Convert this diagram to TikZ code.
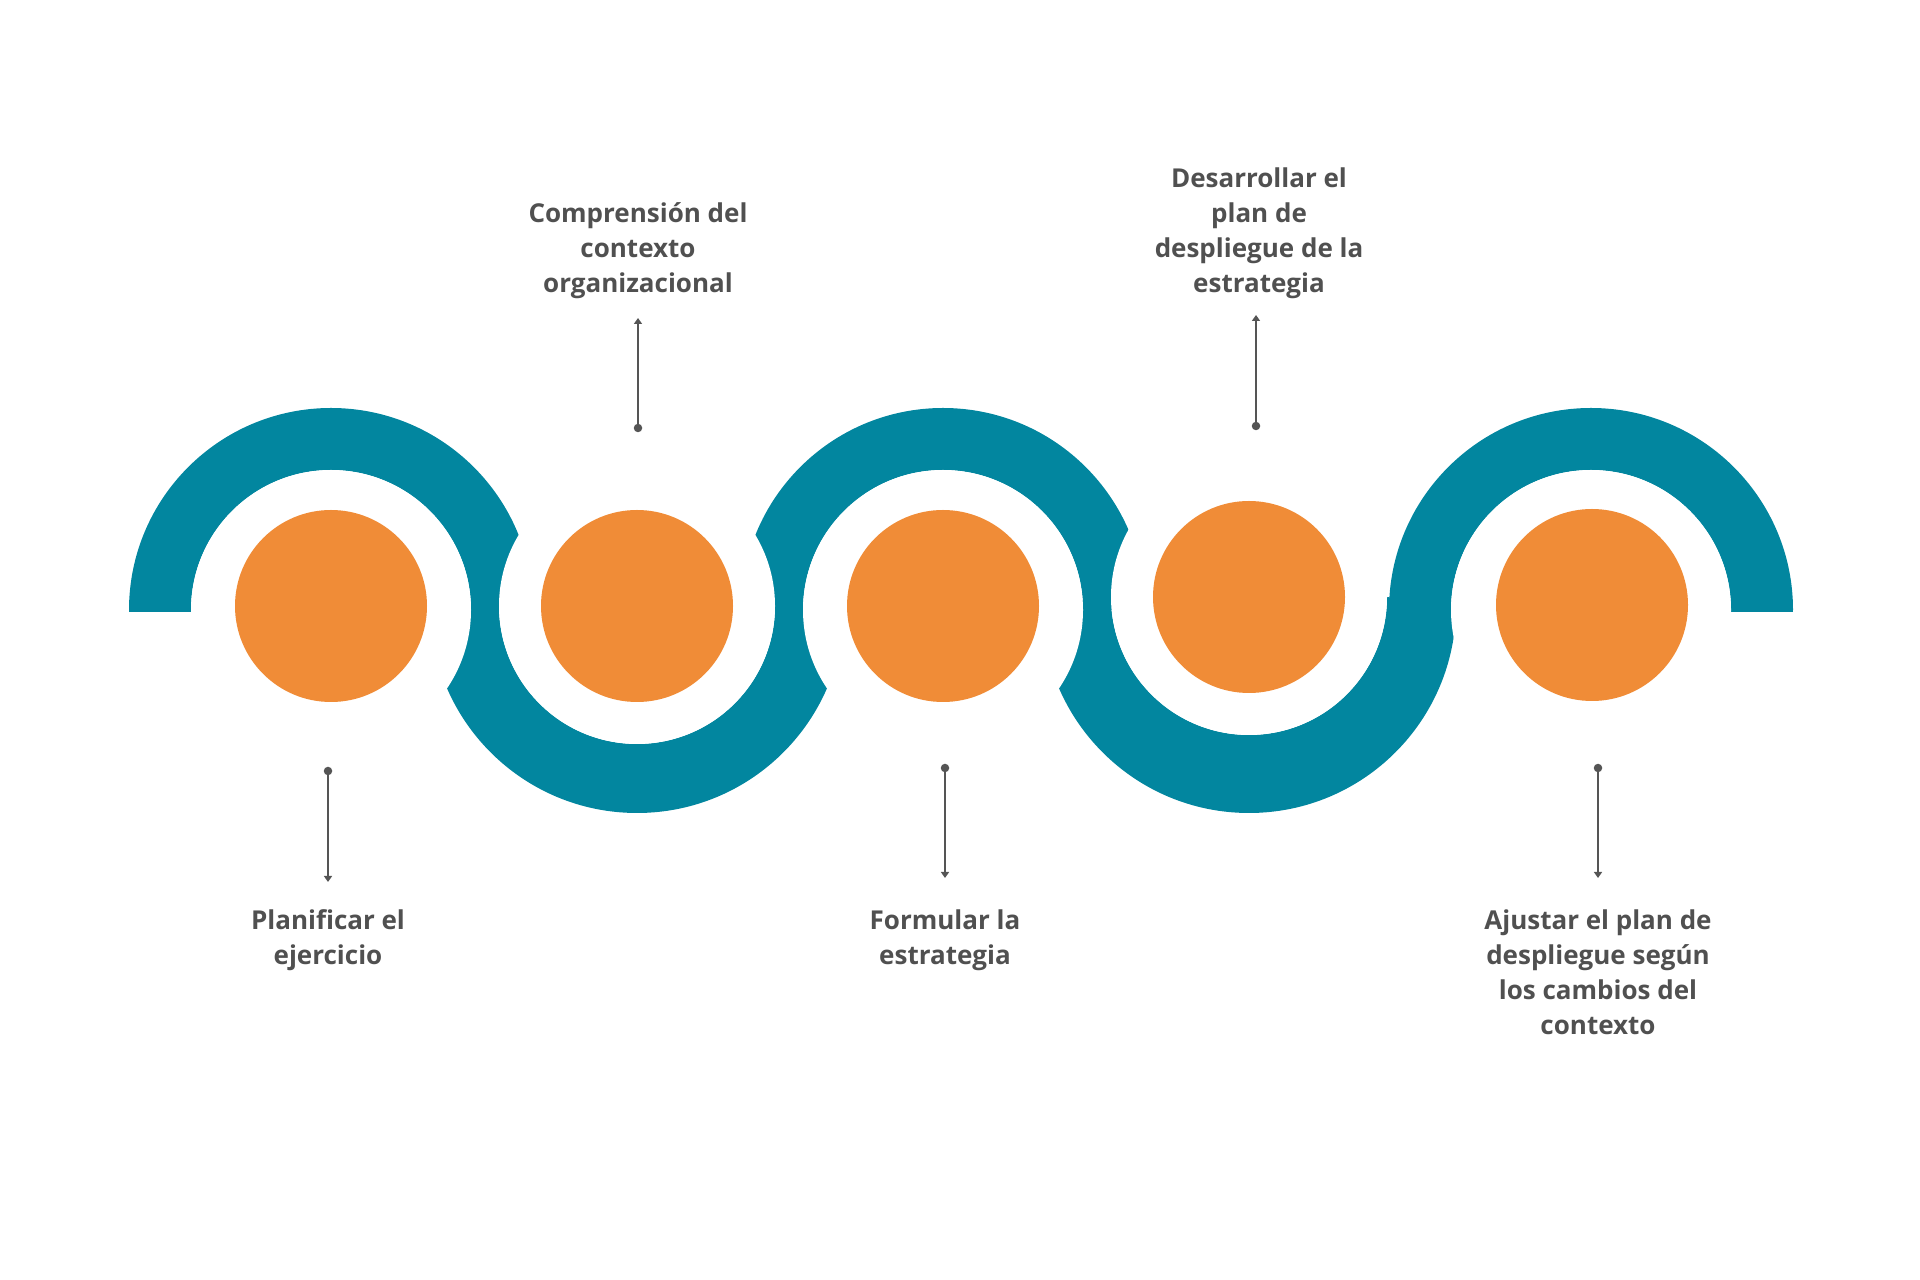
\documentclass[tikz,border=0pt]{standalone}
\usepackage{fontspec}
\newfontfamily\stepfont{Open Sans}
\usetikzlibrary{arrows.meta}
\definecolor{wavecol}{HTML}{02869F}
\definecolor{ballcol}{HTML}{F08C37}
\definecolor{textgray}{HTML}{505050}
\definecolor{linegray}{HTML}{555555}

\begin{document}
\begin{tikzpicture}[x=1pt,y=1pt,
  step text/.style={font=\stepfont\bfseries\fontsize{26pt}{35pt}\selectfont,
    text=textgray, align=center, anchor=base, inner sep=0pt},
  pin line/.style={draw=linegray, line width=2pt, -{Triangle[width=8pt,length=6pt]}},
  pin dot/.style={circle, fill=linegray, inner sep=0pt, minimum size=8.5pt}]

\useasboundingbox (0,0) rectangle (1920,1280);

\foreach \cx in {331,943,1591}
\fill[wavecol] (\cx-202,670) arc[start angle=180,end angle=0,radius=202pt]
  -- ++(-62,0) arc[start angle=0,end angle=180,radius=140pt] -- cycle;
\fill[wavecol] (637-207,674) arc[start angle=180,end angle=360,radius=207pt]
  -- ++(-69,0) arc[start angle=360,end angle=180,radius=138pt] -- cycle;
\fill[wavecol] (1249-207,674) arc[start angle=180,end angle=360,radius=207pt]
  -- (1387,683) arc[start angle=360,end angle=180,radius=138pt] -- cycle;
\fill[wavecol] (129,668) rectangle (191,670);
\fill[wavecol] (1731,668) rectangle (1793,670);
\foreach \cx/\cy/\r in {331/670/140,637/674/138,943/670/140,1249/683/138,1591/670/140}
\fill[white] (\cx,\cy) circle[radius=\r pt];

\foreach \cx/\cy in {331/674,637/674,943/674,1249/683,1592/675}
\fill[ballcol] (\cx,\cy) circle[radius=96pt];

\node[step text] (plan) at (328,315) {Planificar el\\ejercicio};
\node[step text] (comp) at (638,987) {Comprensión del\\contexto\\organizacional};
\node[step text] (form) at (945,315) {Formular la\\estrategia};
\node[step text] (desa) at (1259,987) {Desarrollar el\\plan de\\despliegue de la\\estrategia};
\node[step text] (ajus) at (1598,245) {Ajustar el plan de\\despliegue según\\los cambios del\\contexto};

\node[pin dot] (d1) at (328,509) {};
\node[pin dot] (d2) at (638,852) {};
\node[pin dot] (d3) at (945,512) {};
\node[pin dot] (d4) at (1256,854) {};
\node[pin dot] (d5) at (1598,512) {};
\coordinate (t1) at (328,398);
\coordinate (t2) at (638,962);
\coordinate (t3) at (945,402);
\coordinate (t4) at (1256,965);
\coordinate (t5) at (1598,402);
\foreach \i in {1,...,5}
\draw[pin line] (d\i) -- (t\i);
\end{tikzpicture}
\end{document}
